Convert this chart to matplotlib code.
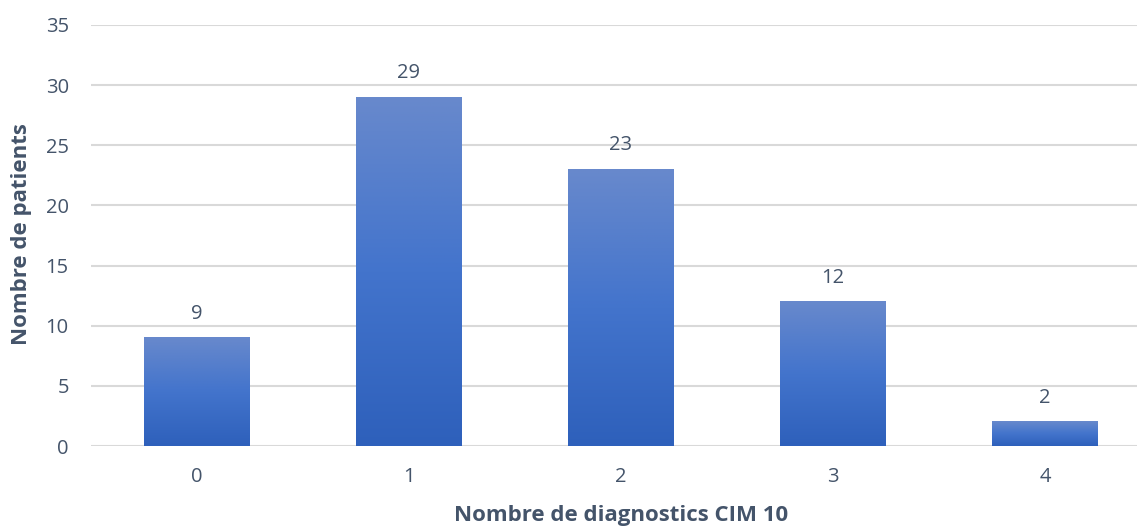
import matplotlib.pyplot as plt
import numpy as np
from matplotlib.colors import LinearSegmentedColormap

categories = ['0', '1', '2', '3', '4']
patients = [9, 29, 23, 12, 2]
yticks = [0, 5, 10, 15, 20, 25, 30, 35]

plt.rcParams['font.family'] = ['Open Sans', 'DejaVu Sans']
text_color = '#44546a'

fig = plt.figure(figsize=(11.37, 5.27), dpi=100)
ax = fig.add_axes([91 / 1137, 81 / 527, 1060 / 1137, 421 / 527])

# vertical gradient for the bars, lighter at the top
grad = LinearSegmentedColormap.from_list('bar', ['#2e60bb', '#4374cc', '#6889cc'])
x = np.arange(len(categories))
width = 0.5
bars = ax.bar(x, patients, width, color='none', zorder=2)
for rect, v in zip(bars, patients):
    x0 = rect.get_x()
    img = np.linspace(0, 1, 256).reshape(-1, 1)
    ax.imshow(img, cmap=grad, origin='lower', aspect='auto',
              extent=[x0, x0 + width, 0, v], zorder=2)
    ax.text(rect.get_x() + width / 2, v + 1.58, str(v), ha='center', va='baseline',
            fontsize=14.5, color=text_color)

ax.set_xlim(-0.5, len(categories) - 0.5)
ax.set_ylim(0, 35)
ax.set_xticks(x)
ax.set_xticklabels(categories)
ax.set_yticks(yticks)
ax.grid(axis='y', color='#d9d9d9', linewidth=1.5, zorder=0)
ax.set_axisbelow(True)
for s in ax.spines.values():
    s.set_visible(False)
ax.tick_params(length=0, labelsize=14.5, labelcolor=text_color)
ax.tick_params(axis='y', pad=16)
ax.tick_params(axis='x', pad=15)

fig.text(621 / 1137, 11 / 527, 'Nombre de diagnostics CIM 10', ha='center', va='center',
         fontsize=16, fontweight='bold', color=text_color)
fig.text(22 / 1137, 293 / 527, 'Nombre de patients', ha='center', va='center', rotation=90,
         fontsize=16, fontweight='bold', color=text_color)

fig.savefig('out.png', dpi=100)
